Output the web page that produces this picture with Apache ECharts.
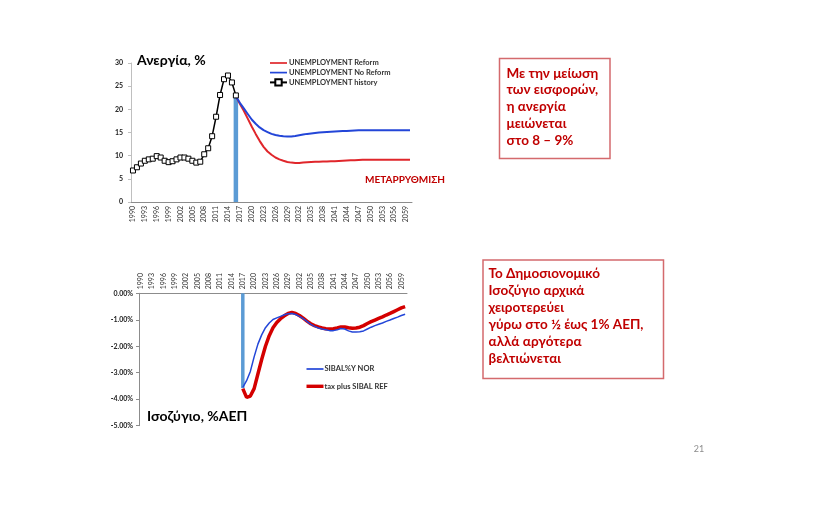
<!DOCTYPE html>
<html><head><meta charset="utf-8">
<script src="https://cdn.jsdelivr.net/npm/echarts@6/dist/echarts.min.js"></script>
<style>html,body{margin:0;padding:0;background:#fff}#c{width:838px;height:508px}</style>
</head><body><div id="c"></div>
<script>
// ---- data ----
const years = [1990,1991,1992,1993,1994,1995,1996,1997,1998,1999,2000,2001,2002,2003,2004,2005,2006,2007,2008,2009,
  2010,2011,2012,2013,2014,2015,2016,2017,2018,2019,2020,2021,2022,2023,2024,2025,2026,2027,2028,2029,
  2030,2031,2032,2033,2034,2035,2036,2037,2038,2039,2040,2041,2042,2043,2044,2045,2046,2047,2048,2049,
  2050,2051,2052,2053,2054,2055,2056,2057,2058,2059,2060];

const unempHistoryStart = 1990;
const unempHistory = [6.8,7.5,8.3,8.9,9.2,9.35,9.9,9.6,8.9,8.6,8.8,9.2,9.6,9.6,9.35,8.9,8.5,8.7,10.3,11.6,
  14.2,18.4,23.1,26.5,27.3,25.8,23.0];

const unempProjStart = 2016;
const unempReform = [22.8,21.2,19.7,18.0,16.3,14.7,13.2,11.9,10.9,10.2,9.6,9.2,8.9,8.65,8.5,8.4,8.4,8.5,8.6,8.65,
  8.7,8.7,8.75,8.75,8.8,8.8,8.85,8.9,8.95,9.0,9.0,9.05,9.1,9.1,9.1,9.1,9.1,9.1,9.1,9.1,9.1,9.1,9.1,9.1,9.1];
const unempNoReform = [22.8,21.4,20.2,19.0,17.8,16.9,16.1,15.5,15.1,14.7,14.45,14.3,14.2,14.15,14.15,14.25,14.4,14.55,14.7,14.8,
  14.9,15.0,15.05,15.1,15.15,15.2,15.25,15.3,15.35,15.4,15.45,15.5,15.5,15.5,15.5,15.5,15.5,15.5,15.5,15.5,15.5,15.5,15.5,15.5,15.5];
const unempMarkerYear = 2016;
const unempMarkerValue = 22.5;

const balanceStart = 2017;
const balanceNor = [-3.55,-3.3,-2.95,-2.4,-1.92,-1.57,-1.3,-1.12,-0.99,-0.93,-0.87,-0.81,-0.77,-0.76,-0.8,-0.87,-0.96,-1.06,-1.17,-1.25,
  -1.31,-1.35,-1.38,-1.41,-1.41,-1.38,-1.33,-1.35,-1.42,-1.46,-1.46,-1.45,-1.42,-1.35,-1.28,-1.22,-1.17,-1.12,-1.06,-1.01,
  -0.95,-0.9,-0.84,-0.79];
const balanceRef = [-3.6,-3.93,-3.88,-3.6,-3.05,-2.5,-2.0,-1.6,-1.3,-1.1,-0.96,-0.85,-0.76,-0.72,-0.76,-0.84,-0.94,-1.05,-1.15,-1.22,
  -1.27,-1.31,-1.34,-1.35,-1.34,-1.31,-1.27,-1.27,-1.3,-1.32,-1.31,-1.28,-1.22,-1.14,-1.07,-1.01,-0.95,-0.89,-0.82,-0.76,
  -0.69,-0.62,-0.55,-0.5];
const balanceMarkerYear = 2017;
const balanceMarkerValue = -3.58;

const unempAxis = {min: 0, max: 30, step: 5};
const balanceAxis = {min: -5, max: 0, step: 1};

// ---- helpers ----
function align(start, vals) {
  return years.map(y => { const i = y - start; return (i >= 0 && i < vals.length) ? vals[i] : null; });
}
function single(year, v) { return years.map(y => y === year ? v : null); }

const FONT = 'Lato, "Noto Sans", "DejaVu Sans", sans-serif';
const RED = '#c00000';
const THIN_LINE = 'path://M0,0H40V4H0Z';
const THICK_LINE = 'path://M0,0H20V4H0Z';

const xAxisCommon = {
  type: 'category', data: years, boundaryGap: true,
  axisLine: {lineStyle: {color: '#8c8c8c', width: 1}},
  axisTick: {interval: 0, length: 3, lineStyle: {color: '#8c8c8c'}},
  axisLabel: {interval: 2, rotate: 90, fontSize: 7, color: '#333', fontFamily: FONT, margin: 4},
  splitLine: {show: false}
};

const chart = echarts.init(document.getElementById('c'), null, {renderer: 'canvas'});
chart.setOption({
  backgroundColor: '#fff',
  animation: false,
  textStyle: {fontFamily: FONT},
  grid: [
    {left: 131, top: 63, width: 281, height: 139},
    {left: 139, top: 293.3, width: 268, height: 132.4}
  ],
  xAxis: [
    Object.assign({}, xAxisCommon, {gridIndex: 0, position: 'bottom'}),
    Object.assign({}, xAxisCommon, {gridIndex: 1, position: 'top',
      axisTick: {interval: 0, length: 3, inside: true, lineStyle: {color: '#8c8c8c'}}})
  ],
  yAxis: [
    {type: 'value', gridIndex: 0, min: unempAxis.min, max: unempAxis.max, interval: unempAxis.step,
      axisLine: {show: true, lineStyle: {color: '#bfbfbf'}},
      axisTick: {show: true, length: 3, lineStyle: {color: '#bfbfbf'}},
      axisLabel: {fontSize: 7, fontWeight: 'bold', color: '#222', margin: 8},
      splitLine: {show: false}},
    {type: 'value', gridIndex: 1, min: balanceAxis.min, max: balanceAxis.max, interval: balanceAxis.step,
      axisLine: {show: true, lineStyle: {color: '#8c8c8c'}},
      axisTick: {show: true, length: 3, lineStyle: {color: '#8c8c8c'}},
      axisLabel: {fontSize: 7, fontWeight: 'bold', color: '#222', margin: 6,
        formatter: v => v.toFixed(2) + '%'},
      splitLine: {show: false}}
  ],
  legend: [
    {orient: 'vertical', left: 269, top: 59, itemWidth: 17, itemHeight: 8, itemGap: 1.6,
      padding: 0,
      data: [{name: 'UNEMPLOYMENT Reform', icon: THIN_LINE},
             {name: 'UNEMPLOYMENT No Reform', icon: THIN_LINE},
             {name: 'UNEMPLOYMENT history'}],
      textStyle: {fontSize: 7.5, fontWeight: 'bold', color: '#333', padding: [0, 0, 0, -3]}},
    {orient: 'vertical', left: 306.5, top: 365, itemWidth: 17, itemHeight: 8, itemGap: 9.3,
      padding: 0,
      data: [{name: 'SIBAL%Y NOR', icon: THIN_LINE}, {name: 'tax plus SIBAL REF', icon: THICK_LINE}],
      textStyle: {fontSize: 7.5, fontWeight: 'bold', color: '#333', padding: [0, 0, 0, -4]}}
  ],
  series: [
    {type: 'bar', name: 'marker1', xAxisIndex: 0, yAxisIndex: 0, data: single(unempMarkerYear, unempMarkerValue),
      barWidth: 4.5, itemStyle: {color: '#5b9bd5'}, z: 1},
    {type: 'line', name: 'UNEMPLOYMENT Reform', xAxisIndex: 0, yAxisIndex: 0, data: align(unempProjStart, unempReform),
      symbol: 'none', lineStyle: {color: '#e0262b', width: 2}, itemStyle: {color: '#e0262b'}, z: 3},
    {type: 'line', name: 'UNEMPLOYMENT No Reform', xAxisIndex: 0, yAxisIndex: 0, data: align(unempProjStart, unempNoReform),
      symbol: 'none', lineStyle: {color: '#2346d8', width: 2}, itemStyle: {color: '#2346d8'}, z: 3},
    {type: 'line', name: 'UNEMPLOYMENT history', xAxisIndex: 0, yAxisIndex: 0, data: align(unempHistoryStart, unempHistory),
      symbol: 'rect', symbolSize: 5, showAllSymbol: true,
      lineStyle: {color: '#000', width: 1.5}, itemStyle: {color: '#fff', borderColor: '#000', borderWidth: 1}, z: 4},
    {type: 'bar', name: 'marker2', xAxisIndex: 1, yAxisIndex: 1, data: single(balanceMarkerYear, balanceMarkerValue),
      barWidth: 3.5, itemStyle: {color: '#5b9bd5'}, z: 1},
    {type: 'line', name: 'SIBAL%Y NOR', xAxisIndex: 1, yAxisIndex: 1, data: align(balanceStart, balanceNor),
      symbol: 'none', lineStyle: {color: '#2346d8', width: 1.5}, itemStyle: {color: '#2346d8'}, z: 3},
    {type: 'line', name: 'tax plus SIBAL REF', xAxisIndex: 1, yAxisIndex: 1, data: align(balanceStart, balanceRef),
      symbol: 'none', lineStyle: {color: '#d40000', width: 3.5}, itemStyle: {color: '#d40000'}, z: 2}
  ],
  graphic: [
    {type: 'text', x: 137, y: 60.7, style: {text: 'Ανεργία, %', font: 'bold 14px ' + FONT, fill: '#000', verticalAlign: 'middle'}},
    {type: 'text', x: 147, y: 416.7, style: {text: 'Ισοζύγιο, %ΑΕΠ', font: 'bold 14px ' + FONT, fill: '#000', verticalAlign: 'middle'}},
    {type: 'text', x: 365, y: 179.5, style: {text: 'ΜΕΤΑΡΡΥΘΜΙΣΗ', font: 'bold 10px ' + FONT, fill: RED, verticalAlign: 'middle'}},
    {type: 'rect', shape: {x: 499.5, y: 58.5, width: 110.5, height: 100}, style: {fill: 'none', stroke: '#d46a6d', lineWidth: 1.5}},
    {type: 'text', x: 506.5, y: 64.9, style: {text: 'Με την μείωση\nτων εισφορών,\nη ανεργία\nμειώνεται\nστο 8 – 9%',
      font: 'bold 13.5px ' + FONT, lineHeight: 16.8, fill: RED, verticalAlign: 'top'}},
    {type: 'rect', shape: {x: 483, y: 260, width: 180.5, height: 118.5}, style: {fill: 'none', stroke: '#d46a6d', lineWidth: 1.5}},
    {type: 'text', x: 488.5, y: 264.8, style: {text: 'Το Δημοσιονομικό\nΙσοζύγιο αρχικά\nχειροτερεύει\nγύρω στο ½ έως 1% ΑΕΠ,\nαλλά αργότερα\nβελτιώνεται',
      font: 'bold 13.5px ' + FONT, lineHeight: 17, fill: RED, verticalAlign: 'top'}},
    {type: 'text', x: 699, y: 449, style: {text: '21', font: '9px ' + FONT, fill: '#8c8c8c', align: 'center', verticalAlign: 'middle'}}
  ]
});
</script></body></html>
